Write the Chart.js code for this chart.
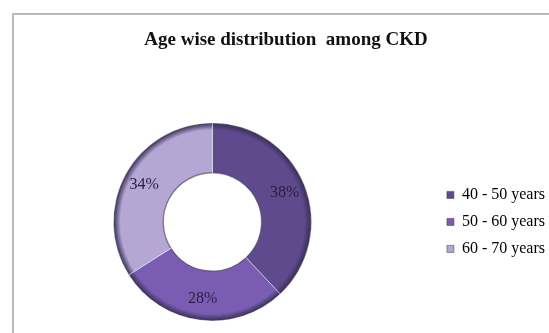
<!DOCTYPE html>
<html>
<head>
<meta charset="utf-8">
<script src="https://cdn.jsdelivr.net/npm/chart.js@4.4.0/dist/chart.umd.min.js"></script>
<style>
  html, body { margin: 0; padding: 0; background: #fff; }
  #wrap { position: relative; width: 549px; height: 333px; overflow: hidden; }
  #frame { position: absolute; left: 12px; top: 13px; width: 560px; height: 340px;
           border-left: 2px solid #b9b9b9; border-top: 2px solid #b9b9b9; pointer-events: none; }
</style>
</head>
<body>
<div id="wrap">
  <canvas id="chDonut" width="549" height="333"></canvas>
  <div id="frame"></div>
</div>
<script>
var ageGroups = ['40 - 50 years', '50 - 60 years', '60 - 70 years'];
var shares = [38, 28, 34];
var sliceColors = ['#5e4a8d', '#7a5db3', '#b4a7d3'];

var outerR = 99;
var cutoutPct = 49;
// the ring sits left of centre between the frame and the legend
var ringShift = -14;

// darker rim at the hole and the outside edge gives the slices a bevelled look
function ringFill(context) {
    var chart = context.chart;
    var area = chart.chartArea;
    var base = sliceColors[context.dataIndex];
    if (!area) return base;
    var cx = (area.left + area.right) / 2;
    var cy = (area.top + area.bottom) / 2;
    var inner = outerR * cutoutPct / 100;
    var g = chart.ctx.createRadialGradient(cx, cy, inner, cx, cy, outerR);
    g.addColorStop(0, 'rgba(70,60,90,0.9)');
    g.addColorStop(0.04, base);
    g.addColorStop(0.86, base);
    g.addColorStop(1, 'rgba(45,35,75,0.95)');
    return g;
}

var ringPlace = {
    id: 'ringPlace',
    afterLayout: function (chart) {
        chart.chartArea.left += ringShift;
        chart.chartArea.right += ringShift;
    }
};

var pctLabels = {
    id: 'pctLabels',
    afterDatasetsDraw: function (chart) {
        var ctx = chart.ctx;
        var meta = chart.getDatasetMeta(0);
        ctx.save();
        ctx.font = '16px "Liberation Serif"';
        ctx.fillStyle = '#2a2142';
        ctx.textAlign = 'center';
        ctx.textBaseline = 'middle';
        meta.data.forEach(function (arc, i) {
            var p = arc.getProps(['x', 'y', 'startAngle', 'endAngle', 'innerRadius', 'outerRadius']);
            var mid = (p.startAngle + p.endAngle) / 2;
            var r = p.innerRadius + (p.outerRadius - p.innerRadius) * 0.58;
            ctx.fillText(shares[i] + '%', p.x + Math.cos(mid) * r, p.y + Math.sin(mid) * r);
        });
        ctx.restore();
    }
};

var chDonut = document.getElementById('chDonut').getContext('2d');
new Chart(chDonut, {
    type: 'doughnut',
    data: {
        labels: ageGroups,
        datasets: [{
            data: shares,
            backgroundColor: ringFill,
            borderColor: 'rgba(255,255,255,0.4)',
            borderWidth: 1
        }]
    },
    options: {
        responsive: false,
        animation: false,
        radius: outerR,
        cutout: cutoutPct + '%',
        layout: { padding: { left: 17, right: -6, top: 0, bottom: 0 } },
        plugins: {
            title: {
                display: true,
                text: 'Age wise distribution  among CKD',
                color: '#111',
                font: { family: '"Liberation Serif"', size: 19, weight: 'bold' },
                padding: { top: 29, bottom: 59 }
            },
            legend: {
                position: 'right',
                fullSize: false,
                labels: {
                    boxWidth: 7,
                    boxHeight: 7,
                    padding: 11,
                    color: '#222',
                    font: { family: '"Liberation Serif"', size: 16 },
                    generateLabels: function (chart) {
                        return ageGroups.map(function (name, i) {
                            return { text: name, fillStyle: sliceColors[i], strokeStyle: '#3a2e5a', lineWidth: 0.5, index: i };
                        });
                    }
                }
            },
            tooltip: { enabled: false }
        }
    },
    plugins: [ringPlace, pctLabels]
});
</script>
</body>
</html>
